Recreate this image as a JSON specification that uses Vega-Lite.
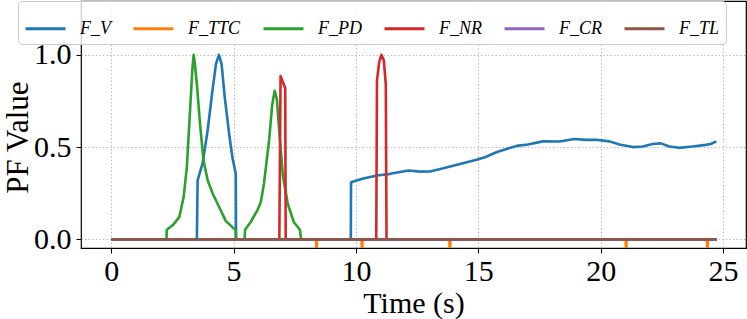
{
  "$schema": "https://vega.github.io/schema/vega-lite/v6.json",
  "width": 665,
  "height": 247,
  "autosize": {"type": "none"},
  "padding": {"left": 81, "top": 1, "right": 1, "bottom": 71},
  "config": {
    "font": "Liberation Serif",
    "view": {"stroke": "#000000", "strokeWidth": 1.2},
    "axis": {
      "domain": false,
      "grid": true,
      "gridColor": "#b0b0b0",
      "gridDash": [1.2, 2.4],
      "gridWidth": 1,
      "tickColor": "#000000",
      "tickSize": 5,
      "tickWidth": 1,
      "labelColor": "#000000",
      "labelFontSize": 30,
      "labelFont": "Liberation Serif",
      "titleColor": "#000000",
      "titleFontSize": 30,
      "titleFont": "Liberation Serif",
      "titleFontWeight": "normal"
    },
    "legend": {"labelFont": "Liberation Serif", "labelFontStyle": "italic"}
  },
  "data": {
    "values": [
      {"t": 0, "v": 0, "s": "F_V"},
      {"t": 3.49, "v": 0, "s": "F_V"},
      {"t": 3.5, "v": 0, "s": "F_V"},
      {"t": 3.53, "v": 0.32, "s": "F_V"},
      {"t": 3.73, "v": 0.41, "s": "F_V"},
      {"t": 3.94, "v": 0.59, "s": "F_V"},
      {"t": 4.14, "v": 0.81, "s": "F_V"},
      {"t": 4.28, "v": 0.95, "s": "F_V"},
      {"t": 4.4, "v": 1.0, "s": "F_V"},
      {"t": 4.51, "v": 0.95, "s": "F_V"},
      {"t": 4.64, "v": 0.77, "s": "F_V"},
      {"t": 4.82, "v": 0.57, "s": "F_V"},
      {"t": 4.95, "v": 0.445, "s": "F_V"},
      {"t": 5.09, "v": 0.355, "s": "F_V"},
      {"t": 5.1, "v": 0, "s": "F_V"},
      {"t": 9.79, "v": 0, "s": "F_V"},
      {"t": 9.8, "v": 0.31, "s": "F_V"},
      {"t": 10.3, "v": 0.33, "s": "F_V"},
      {"t": 10.86, "v": 0.346, "s": "F_V"},
      {"t": 11.4, "v": 0.355, "s": "F_V"},
      {"t": 11.8, "v": 0.365, "s": "F_V"},
      {"t": 12.15, "v": 0.373, "s": "F_V"},
      {"t": 12.62, "v": 0.367, "s": "F_V"},
      {"t": 13.03, "v": 0.368, "s": "F_V"},
      {"t": 13.57, "v": 0.385, "s": "F_V"},
      {"t": 14.25, "v": 0.409, "s": "F_V"},
      {"t": 14.93, "v": 0.431, "s": "F_V"},
      {"t": 15.27, "v": 0.445, "s": "F_V"},
      {"t": 15.74, "v": 0.472, "s": "F_V"},
      {"t": 16.15, "v": 0.49, "s": "F_V"},
      {"t": 16.63, "v": 0.508, "s": "F_V"},
      {"t": 17.03, "v": 0.514, "s": "F_V"},
      {"t": 17.64, "v": 0.531, "s": "F_V"},
      {"t": 18.32, "v": 0.53, "s": "F_V"},
      {"t": 18.93, "v": 0.544, "s": "F_V"},
      {"t": 19.41, "v": 0.539, "s": "F_V"},
      {"t": 19.82, "v": 0.54, "s": "F_V"},
      {"t": 20.36, "v": 0.531, "s": "F_V"},
      {"t": 20.77, "v": 0.514, "s": "F_V"},
      {"t": 21.31, "v": 0.5, "s": "F_V"},
      {"t": 21.72, "v": 0.503, "s": "F_V"},
      {"t": 22.12, "v": 0.517, "s": "F_V"},
      {"t": 22.46, "v": 0.52, "s": "F_V"},
      {"t": 22.8, "v": 0.503, "s": "F_V"},
      {"t": 23.21, "v": 0.496, "s": "F_V"},
      {"t": 23.75, "v": 0.503, "s": "F_V"},
      {"t": 24.3, "v": 0.512, "s": "F_V"},
      {"t": 24.5, "v": 0.517, "s": "F_V"},
      {"t": 24.73, "v": 0.531, "s": "F_V"},

      {"t": 0, "v": 0, "s": "F_TTC"},
      {"t": 8.37, "v": 0, "s": "F_TTC"},
      {"t": 8.39, "v": -0.1, "s": "F_TTC"},
      {"t": 8.41, "v": 0, "s": "F_TTC"},
      {"t": 10.23, "v": 0, "s": "F_TTC"},
      {"t": 10.25, "v": -0.1, "s": "F_TTC"},
      {"t": 10.27, "v": 0, "s": "F_TTC"},
      {"t": 13.82, "v": 0, "s": "F_TTC"},
      {"t": 13.84, "v": -0.1, "s": "F_TTC"},
      {"t": 13.86, "v": 0, "s": "F_TTC"},
      {"t": 21.02, "v": 0, "s": "F_TTC"},
      {"t": 21.04, "v": -0.1, "s": "F_TTC"},
      {"t": 21.06, "v": 0, "s": "F_TTC"},
      {"t": 24.34, "v": 0, "s": "F_TTC"},
      {"t": 24.36, "v": -0.1, "s": "F_TTC"},
      {"t": 24.38, "v": 0, "s": "F_TTC"},
      {"t": 24.74, "v": 0, "s": "F_TTC"},

      {"t": 0, "v": 0, "s": "F_PD"},
      {"t": 2.26, "v": 0, "s": "F_PD"},
      {"t": 2.27, "v": 0.052, "s": "F_PD"},
      {"t": 2.51, "v": 0.076, "s": "F_PD"},
      {"t": 2.78, "v": 0.12, "s": "F_PD"},
      {"t": 2.96, "v": 0.23, "s": "F_PD"},
      {"t": 3.09, "v": 0.39, "s": "F_PD"},
      {"t": 3.23, "v": 0.72, "s": "F_PD"},
      {"t": 3.32, "v": 0.93, "s": "F_PD"},
      {"t": 3.37, "v": 1.0, "s": "F_PD"},
      {"t": 3.42, "v": 0.95, "s": "F_PD"},
      {"t": 3.5, "v": 0.84, "s": "F_PD"},
      {"t": 3.64, "v": 0.61, "s": "F_PD"},
      {"t": 3.77, "v": 0.43, "s": "F_PD"},
      {"t": 3.94, "v": 0.32, "s": "F_PD"},
      {"t": 4.14, "v": 0.25, "s": "F_PD"},
      {"t": 4.41, "v": 0.175, "s": "F_PD"},
      {"t": 4.68, "v": 0.1, "s": "F_PD"},
      {"t": 4.95, "v": 0.066, "s": "F_PD"},
      {"t": 5.09, "v": 0.05, "s": "F_PD"},
      {"t": 5.1, "v": 0, "s": "F_PD"},
      {"t": 5.45, "v": 0, "s": "F_PD"},
      {"t": 5.47, "v": 0.052, "s": "F_PD"},
      {"t": 5.7, "v": 0.094, "s": "F_PD"},
      {"t": 5.97, "v": 0.157, "s": "F_PD"},
      {"t": 6.11, "v": 0.2, "s": "F_PD"},
      {"t": 6.24, "v": 0.3, "s": "F_PD"},
      {"t": 6.45, "v": 0.535, "s": "F_PD"},
      {"t": 6.58, "v": 0.73, "s": "F_PD"},
      {"t": 6.68, "v": 0.805, "s": "F_PD"},
      {"t": 6.77, "v": 0.76, "s": "F_PD"},
      {"t": 6.88, "v": 0.56, "s": "F_PD"},
      {"t": 7.02, "v": 0.34, "s": "F_PD"},
      {"t": 7.22, "v": 0.19, "s": "F_PD"},
      {"t": 7.46, "v": 0.094, "s": "F_PD"},
      {"t": 7.71, "v": 0.052, "s": "F_PD"},
      {"t": 7.76, "v": 0, "s": "F_PD"},
      {"t": 24.74, "v": 0, "s": "F_PD"},

      {"t": 0, "v": 0, "s": "F_NR"},
      {"t": 6.87, "v": 0, "s": "F_NR"},
      {"t": 6.92, "v": 0.885, "s": "F_NR"},
      {"t": 6.96, "v": 0.87, "s": "F_NR"},
      {"t": 7.11, "v": 0.82, "s": "F_NR"},
      {"t": 7.13, "v": 0, "s": "F_NR"},
      {"t": 10.83, "v": 0, "s": "F_NR"},
      {"t": 10.86, "v": 0.86, "s": "F_NR"},
      {"t": 10.95, "v": 0.96, "s": "F_NR"},
      {"t": 11.04, "v": 1.0, "s": "F_NR"},
      {"t": 11.14, "v": 0.97, "s": "F_NR"},
      {"t": 11.22, "v": 0.84, "s": "F_NR"},
      {"t": 11.25, "v": 0, "s": "F_NR"},
      {"t": 24.74, "v": 0, "s": "F_NR"},

      {"t": 0, "v": 0, "s": "F_CR"},
      {"t": 24.74, "v": 0, "s": "F_CR"},

      {"t": 0, "v": 0, "s": "F_TL"},
      {"t": 24.74, "v": 0, "s": "F_TL"}
    ]
  },
  "mark": {"type": "line", "strokeWidth": 2.6, "clip": true, "strokeJoin": "round"},
  "encoding": {
    "x": {
      "field": "t",
      "type": "quantitative",
      "title": "Time (s)",
      "scale": {"domain": [-1.235, 25.94], "nice": false, "zero": false},
      "axis": {"values": [0, 5, 10, 15, 20, 25], "format": "d", "labelPadding": 3, "titleBaseline": "alphabetic", "titleY": 64, "labelFlush": false}
    },
    "y": {
      "field": "v",
      "type": "quantitative",
      "title": "PF Value",
      "scale": {"domain": [-0.047, 1.292], "nice": false, "zero": false},
      "axis": {"values": [0, 0.5, 1.0], "format": ".1f", "labelPadding": 5, "titleBaseline": "alphabetic", "titleX": -54, "titleY": 136, "titleAngle": 270, "titleFontSize": 31, "labelFlush": false}
    },
    "color": {
      "field": "s",
      "type": "nominal",
      "sort": ["F_V", "F_TTC", "F_PD", "F_NR", "F_CR", "F_TL"],
      "scale": {
        "domain": ["F_V", "F_TTC", "F_PD", "F_NR", "F_CR", "F_TL"],
        "range": ["#1f77b4", "#ff7f0e", "#2ca02c", "#d62728", "#9467bd", "#8c564b"]
      },
      "legend": {
        "title": null,
        "orient": "none",
        "legendX": -63,
        "legendY": 0,
        "direction": "horizontal",
        "columns": 6,
        "symbolType": "stroke",
        "symbolSize": 1600,
        "symbolStrokeWidth": 3,
        "labelFont": "Liberation Serif",
        "labelFontStyle": "italic",
        "labelFontSize": 18,
        "labelColor": "#000000",
        "labelOffset": 13,
        "columnPadding": 16,
        "padding": 6,
        "fillColor": "rgba(255,255,255,0.8)",
        "strokeColor": "#cccccc",
        "cornerRadius": 4
      }
    }
  }
}
